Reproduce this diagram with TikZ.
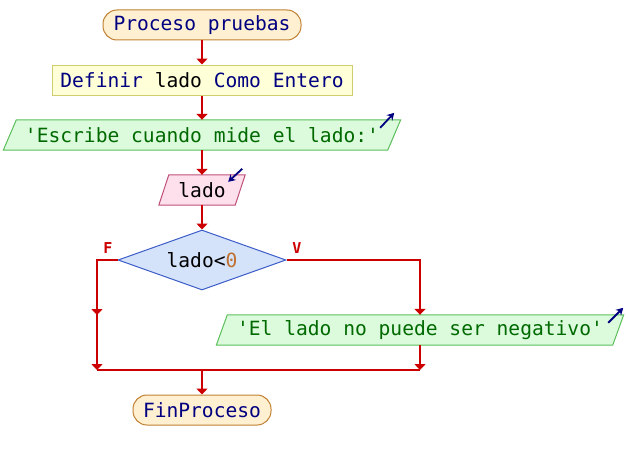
\documentclass[tikz,border=0pt]{standalone}
\usepackage{fontspec}
\setmonofont{DejaVu Sans Mono}
\usetikzlibrary{arrows.meta,shapes.geometric,calc}
\pgfdeclarelayer{bg}
\pgfsetlayers{bg,main}
\definecolor{linered}{HTML}{CC0000}
\definecolor{navy}{HTML}{000080}
\definecolor{strgreen}{HTML}{006A00}
\definecolor{numorange}{HTML}{C07030}
\definecolor{termfill}{HTML}{FFF0D2}
\definecolor{termdraw}{HTML}{C08030}
\definecolor{deffill}{HTML}{FFFFD8}
\definecolor{defdraw}{HTML}{D0CC70}
\definecolor{outfill}{HTML}{DCFADC}
\definecolor{outdraw}{HTML}{5CBF5C}
\definecolor{infill}{HTML}{FDE0EC}
\definecolor{indraw}{HTML}{C0507A}
\definecolor{decfill}{HTML}{D4E2FA}
\definecolor{decdraw}{HTML}{3C5CC8}
\tikzset{
  base/.style={font=\ttfamily\fontsize{19.6}{20}\selectfont, inner sep=0pt, minimum height=30pt, anchor=center},
  term/.style={base, draw=termdraw, fill=termfill, line width=1pt, rounded corners=14pt},
  defbox/.style={base, draw=defdraw, fill=deffill, line width=1pt},
  paranode/.style={base},
  outshape/.style={draw=outdraw, fill=outfill, line width=1pt},
  inshape/.style={draw=indraw, fill=infill, line width=1pt},
  decbox/.style={base, diamond, draw=decdraw, fill=decfill, line width=1pt, minimum width=168pt, minimum height=60pt, aspect=2.8},
  flow/.style={draw=linered, line width=2pt, -{Triangle[length=6pt,width=11pt]}},
  plain/.style={draw=linered, line width=2pt},
  icon/.style={draw=navy, line width=1.8pt, -{Stealth[length=7pt,width=8pt]}},
  branch/.style={font=\ttfamily\bfseries\fontsize{15}{15}\selectfont, text=linered, inner sep=0pt}
}
\begin{document}
\begin{tikzpicture}[x=1pt,y=-1pt]
\useasboundingbox (0,0) rectangle (628,460);
\node[term, minimum width=198pt] (start) at (202,25) {\textcolor{navy}{Proceso pruebas}};
\node[defbox, minimum width=300pt] (def) at (202,80) {\textcolor{navy}{Definir} lado \textcolor{navy}{Como} \textcolor{navy}{Entero}};
\node[paranode, minimum width=384pt] (out1) at (202,135) {\textcolor{strgreen}{'Escribe cuando mide el lado:'}};
\node[paranode, minimum width=76pt] (in1) at (202,190) {lado};
\node[decbox] (dec) at (202,260) {lado<\textcolor{numorange}{0}};
\node[paranode, minimum width=396pt] (out2) at (420,330) {\textcolor{strgreen}{'El lado no puede ser negativo'}};
\node[term, minimum width=138pt] (end) at (202,410) {\textcolor{navy}{FinProceso}};
\begin{pgfonlayer}{bg}
\draw[outshape] ([xshift=-6.5pt]out1.south west) -- ([xshift=6.5pt]out1.north west) -- ([xshift=6.5pt]out1.north east) -- ([xshift=-6.5pt]out1.south east) -- cycle;
\draw[inshape] ([xshift=-5pt]in1.south west) -- ([xshift=5pt]in1.north west) -- ([xshift=5pt]in1.north east) -- ([xshift=-5pt]in1.south east) -- cycle;
\draw[outshape] ([xshift=-5.5pt]out2.south west) -- ([xshift=5.5pt]out2.north west) -- ([xshift=5.5pt]out2.north east) -- ([xshift=-5.5pt]out2.south east) -- cycle;
\end{pgfonlayer}
% icons
\draw[icon] ([shift={(-14,8)}]out1.north east) -- ([shift={(0,-7)}]out1.north east);
\draw[icon] ([shift={(2,-6)}]in1.north east) -- ([shift={(-12,7)}]in1.north east);
\draw[icon] ([shift={(-10,8)}]out2.north east) -- ([shift={(5,-7)}]out2.north east);
% coordinates
\coordinate (fl) at (97,260);
\coordinate (fm) at (97,315);
\coordinate (fb) at (97,370);
\coordinate (vr) at (420,260);
\coordinate (vb) at (420,370);
\coordinate (jn) at (202,370);
% connectors
\draw[flow] (start) -- (def);
\draw[flow] (def) -- (out1);
\draw[flow] (out1) -- (in1);
\draw[flow] (in1) -- (dec);
\draw[plain] (dec.west) -- (fl) -- (fm);
\draw[flow] (fl) -- (fm);
\draw[flow] (fm) -- (fb);
\draw[flow] (dec.east) -- (vr) -- (out2);
\draw[flow] (out2) -- (vb);
\draw[plain] (fb) -- (vb);
\draw[flow] (jn) -- (end);
\node[branch] (flab) at (108,248) {F};
\node[branch] (vlab) at (297,248) {V};
\end{tikzpicture}
\end{document}
